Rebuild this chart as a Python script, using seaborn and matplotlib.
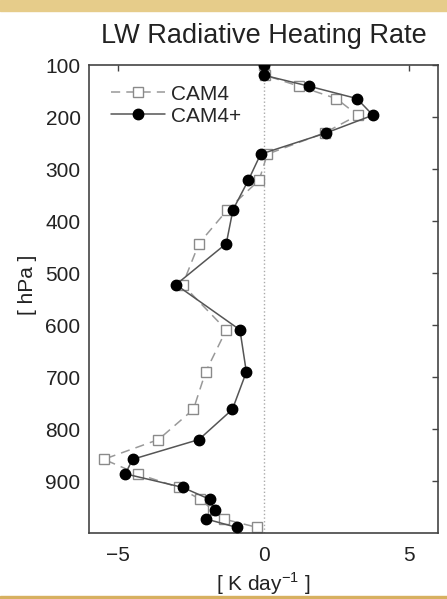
import numpy as np
import pandas as pd
import matplotlib
matplotlib.use("Agg")
import matplotlib.pyplot as plt
import seaborn as sns
from matplotlib.patches import Rectangle

# -----------------------------
# Data
# -----------------------------
levels = [100, 119, 140, 164, 196, 230, 271, 321, 378, 443, 522, 609,
          690, 762, 820, 858, 886, 912, 935, 955, 973, 989]

cam4 = [0.0, 0.05, 1.21, 2.5, 3.24, 2.1, 0.13, -0.15, -1.24, -2.22, -2.78,
        -1.28, -1.99, -2.41, -3.61, -5.49, -4.33, -2.92, -2.18, -1.75,
        -1.36, -0.22]

cam4_plus = [0.01, 0.0, 1.55, 3.21, 3.76, 2.16, -0.1, -0.52, -1.05, -1.28,
             -3.01, -0.81, -0.59, -1.07, -2.22, -4.5, -4.75, -2.78, -1.85,
             -1.68, -1.96, -0.92]

x_ticks = [-5, 0, 5]
y_ticks = [100, 200, 300, 400, 500, 600, 700, 800, 900]

df = pd.DataFrame({"level": levels, "CAM4": cam4, "CAM4+": cam4_plus})

# -----------------------------
# Style
# -----------------------------
sns.set_style("white")
plt.rcParams["font.family"] = ["Liberation Sans", "DejaVu Sans"]
plt.rcParams["mathtext.fontset"] = "custom"
plt.rcParams["mathtext.rm"] = "Liberation Sans"

fig = plt.figure(figsize=(4.47, 5.99), dpi=100)
fig.patch.set_facecolor("white")

# parchment border strips
fig.patches.append(Rectangle((0, 1 - 11 / 599), 1, 11 / 599,
                             transform=fig.transFigure, color="#e6cc8a",
                             zorder=0))
fig.patches.append(Rectangle((0, 0), 1, 3 / 599,
                             transform=fig.transFigure, color="#d7b060",
                             zorder=0))

ax = fig.add_axes([0.199, 0.110, 0.781, 0.781])

# zero line
ax.axvline(0, color="#aaaaaa", lw=1, ls=":", zorder=1)

# -----------------------------
# Profiles
# -----------------------------
sns.lineplot(data=df, x="CAM4", y="level", sort=False, estimator=None,
             ax=ax, color="#999999", lw=1.1, ls=(0, (6, 4)),
             marker="s", markersize=7.5, markerfacecolor="white",
             markeredgecolor="#8a8a8a", markeredgewidth=1.0,
             label="CAM4", zorder=2)

sns.lineplot(data=df, x="CAM4+", y="level", sort=False, estimator=None,
             ax=ax, color="#555555", lw=1.1, ls="-",
             marker="o", markersize=7.5, markerfacecolor="black",
             markeredgecolor="black", markeredgewidth=1.0,
             label="CAM4+", zorder=3)

ax.set_xlim(-6, 6)
ax.set_ylim(1000, 100)
ax.set_xticks(x_ticks)
ax.set_xticklabels(["\u22125", "0", "5"])
ax.set_yticks(y_ticks)

for s in ax.spines.values():
    s.set_color("#444444")
    s.set_linewidth(1.2)

ax.tick_params(direction="in", length=4, width=1, color="#444444",
               top=True, right=True, labelsize=15, labelcolor="#222222")
ax.tick_params(axis="x", pad=9)
ax.tick_params(axis="y", pad=6)

ax.set_title("LW Radiative Heating Rate", fontsize=19.5, color="#222222",
             pad=16)
ax.set_xlabel("[ K day$^{-1}$ ]", fontsize=15, color="#222222")
ax.set_ylabel("[ hPa ]", fontsize=15, color="#222222")
ax.xaxis.set_label_coords(0.5, -0.08)
ax.yaxis.set_label_coords(-0.149, 0.53)

ax.legend(loc="upper left", frameon=False, fontsize=15, handlelength=2.6,
          handletextpad=0.3, labelspacing=0.15, borderaxespad=0.3,
          bbox_to_anchor=(0.02, 0.99))

fig.savefig("out.png", dpi=100)
plt.close(fig)
